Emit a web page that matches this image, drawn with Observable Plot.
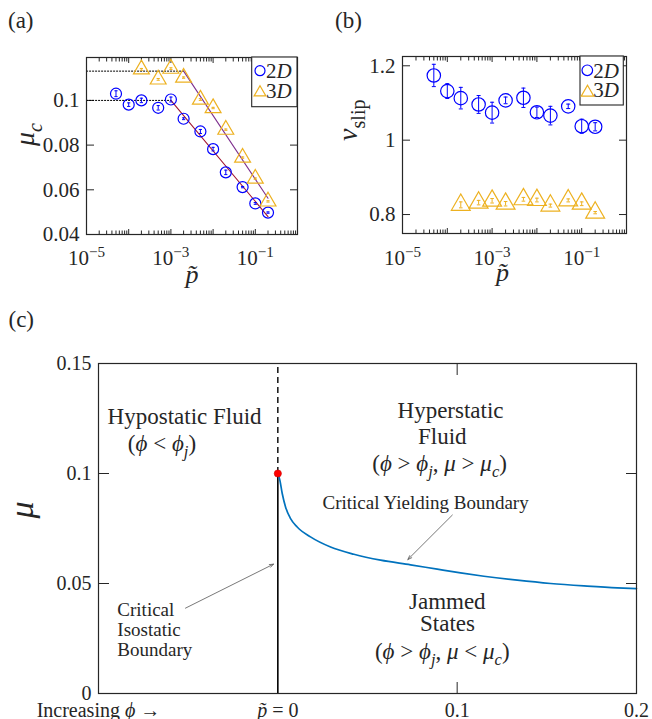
<!DOCTYPE html>
<html>
<head>
<meta charset="utf-8">
<script src="https://cdn.jsdelivr.net/npm/d3@7"></script>
<script src="https://cdn.jsdelivr.net/npm/@observablehq/plot@0.6"></script>
<style>
  html,body{margin:0;padding:0;background:#fff;}
  #wrap{position:relative;width:652px;height:719px;overflow:hidden;background:#fff;}
  #wrap > svg{position:absolute;margin:0;}
</style>
</head>
<body>
<div id="wrap"></div>
<script>
// ---------------- data ----------------
const pTilde2D = [5e-5, 1e-4, 2e-4, 5e-4, 1e-3, 2e-3, 5e-3, 1e-2, 2e-2, 5e-2, 1e-1, 2e-1];
const muc2D    = [0.1030, 0.0981, 0.1000, 0.0967, 0.1004, 0.0918, 0.0861, 0.0782, 0.0678, 0.0612, 0.0539, 0.0498];
const muc2DErr = [0.0013, 0.0008, 0.0010, 0.0010, 0.0011, 0.0004, 0.0009, 0.0008, 0.0010, 0.0003, 0.0004, 0.0003];
const pTilde3D = [2e-4, 5e-4, 1e-3, 2e-3, 5e-3, 1e-2, 2e-2, 5e-2, 1e-1, 2e-1];
const muc3D    = [0.1139, 0.1094, 0.1142, 0.1102, 0.1004, 0.0966, 0.0869, 0.0744, 0.0650, 0.0548];
const muc3DErr = [0.0004, 0.0004, 0.0004, 0.0003, 0.0004, 0.0003, 0.0003, 0.0003, 0.0003, 0.0003];

const nuSlip2D    = [1.174, 1.132, 1.113, 1.096, 1.074, 1.107, 1.114, 1.075, 1.066, 1.091, 1.0375, 1.036];
const nuSlip2DErr = [0.030, 0.020, 0.029, 0.024, 0.028, 0.009, 0.026, 0.014, 0.025, 0.006, 0.019, 0.011];
const nuSlip3D    = [0.826, 0.832, 0.837, 0.829, 0.841, 0.839, 0.824, 0.838, 0.829, 0.805];
const nuSlip3DErr = [0.008, 0.006, 0.006, 0.006, 0.005, 0.005, 0.004, 0.004, 0.005, 0.003];

// plateau (dotted) and fitted lines in (a)
const plateau2DP = [1e-5, 1e-3], plateau2DMu = [0.1, 0.1];
const plateau3DP = [1e-5, 2e-3], plateau3DMu = [0.1131, 0.1131];
const fit2DP = [1e-3, 2e-1], fit2DMu = [0.1, 0.048];
const fit3DP = [2e-3, 2e-1], fit3DMu = [0.1131, 0.0562];

// phase diagram (c)
const curveP  = [0, 0.00112, 0.00245, 0.0043, 0.0071, 0.0108, 0.0182, 0.0294, 0.0424, 0.0573, 0.0740, 0.0889, 0.1019, 0.1149, 0.1335, 0.1521, 0.1707, 0.1893, 0.2];
const curveMu = [0.1, 0.0970, 0.0909, 0.0848, 0.0795, 0.0757, 0.0712, 0.0666, 0.0633, 0.0606, 0.0585, 0.0565, 0.0548, 0.0533, 0.0515, 0.0500, 0.0489, 0.0480, 0.0477];
const isostaticP = [0];
const criticalMu = [0.1];
const muMax = 0.15;

// ticks
const decadeTicks = [1e-5, 1e-4, 1e-3, 1e-2, 1e-1, 1];
const minorTicks = d3.range(-5, 0).flatMap(e => d3.range(2, 10).map(k => k * 10 ** e));
const labelledDecades = [1e-5, 1e-3, 1e-1];
const mucTicks = [0.04, 0.06, 0.08, 0.1];
const nuTicks = [0.8, 1, 1.2];
const cXTicks = [-0.1, 0, 0.1, 0.2];
const cXTickLabels = ["Increasing *ϕ* →", "*p̃* = 0", "0.1", "0.2"];
const cYTicks = [0, 0.05, 0.1, 0.15];
const cYTickLabels = ["0", "0.05", "0.1", "0.15"];

// annotations of (c)
const regionLabels = ["Hypostatic Fluid", "(*ϕ* < *ϕ*_{*j*})", "Hyperstatic", "Fluid",
  "(*ϕ* > *ϕ*_{*j*}, *μ* > *μ*_{*c*})", "Jammed", "States", "(*ϕ* > *ϕ*_{*j*}, *μ* < *μ*_{*c*})"];
const boundaryLabels = ["Critical Yielding Boundary", "Critical", "Isostatic", "Boundary"];

// ---------------- layout / style ----------------
const FONT = "'Liberation Serif','Times New Roman',serif";
const INK = "#262626";
const BLUE = "#0000ff", ORANGE = "#EDB120", RED = "#A2142F", PURPLE = "#7E2F8E", CURVE = "#0072BD";

const regionPos = {x: [-0.052, -0.0646, 0.0963, 0.0917, 0.0902, 0.0945, 0.0946, 0.0917],
                   y: [0.1257, 0.1138, 0.1288, 0.1166, 0.1047, 0.0416, 0.0318, 0.0189]};
const yieldPos = {x: [0.0824], y: [0.0866]};
const isoPos = {x: [-0.0895, -0.0895, -0.0895], y: [0.0379, 0.0288, 0.0197]};
const arrowPos = [{x1: -0.0515, y1: 0.0388, x2: -0.0024, y2: 0.0588},
                  {x1: 0.0973, y1: 0.0811, x2: 0.0725, y2: 0.0609}];

const rows = (xs, ys, es) => xs.map((x, i) => ({x, y: ys[i], e: es ? es[i] : 0}));
const cap = {draw(ctx, size) { const w = Math.sqrt(size / Math.PI); ctx.moveTo(-w, 0); ctx.lineTo(w, 0); }};
const powLabel = d => { const e = Math.round(Math.log10(d)); return `10^{${e < 0 ? "−" : ""}${Math.abs(e)}}`; };
const blank = () => "";

function inwardX(ticks, len) {
  return [
    Plot.axisX({ticks, anchor: "bottom", tickSize: len, dy: -len, tickFormat: blank, label: null}),
    Plot.axisX({ticks, anchor: "top", tickSize: len, dy: len, tickFormat: blank, label: null})
  ];
}
function inwardY(ticks, len) {
  return [
    Plot.axisY({ticks, anchor: "left", tickSize: len, dx: len, tickFormat: blank, label: null}),
    Plot.axisY({ticks, anchor: "right", tickSize: len, dx: -len, tickFormat: blank, label: null})
  ];
}

function errorMarks(data, color, capR) {
  return [
    Plot.ruleX(data, {x: "x", y1: d => d.y - d.e, y2: d => d.y + d.e, stroke: color, strokeWidth: 1}),
    Plot.dot(data, {x: "x", y: d => d.y - d.e, symbol: cap, r: capR, stroke: color, strokeWidth: 1}),
    Plot.dot(data, {x: "x", y: d => d.y + d.e, symbol: cap, r: capR, stroke: color, strokeWidth: 1})
  ];
}

// rich text: *italic*, _{sub}, ^{sup}
function richify(svg) {
  svg.querySelectorAll("text, tspan").forEach(el => {
    if (el.children.length) return;
    const s = el.textContent;
    if (!/[*_^]/.test(s)) return;
    const fs = parseFloat(getComputedStyle(el).fontSize) || 16;
    const segs = [];
    let it = false, mode = 0, buf = "";
    const push = () => { if (buf) segs.push({t: buf, it, mode}); buf = ""; };
    for (let i = 0; i < s.length; i++) {
      const c = s[i];
      if (c === "*") { push(); it = !it; }
      else if ((c === "_" || c === "^") && s[i + 1] === "{") { push(); mode = c === "_" ? -1 : 1; i++; }
      else if (c === "}" && mode !== 0) { push(); mode = 0; }
      else buf += c;
    }
    push();
    el.textContent = "";
    let cur = 0;
    for (const g of segs) {
      const t = document.createElementNS("http://www.w3.org/2000/svg", "tspan");
      t.textContent = g.t;
      if (g.it) t.setAttribute("font-style", "italic");
      const target = g.mode === -1 ? 0.27 * fs : g.mode === 1 ? -0.42 * fs : 0;
      if (target !== cur) t.setAttribute("dy", (target - cur).toFixed(2));
      if (g.mode) t.setAttribute("font-size", (0.72 * fs).toFixed(2));
      cur = target;
      el.appendChild(t);
    }
  });
}

function addLegend(svg, box, items) {
  const g = d3.select(svg).append("g").attr("text-anchor", "start");
  g.append("rect").attr("x", box.x).attr("y", box.y).attr("width", box.w).attr("height", box.h)
    .attr("fill", "white").attr("stroke", INK).attr("stroke-width", 1.1);
  for (const it of items) {
    g.append("path").attr("d", d3.symbol(it.sym, Math.PI * it.r * it.r)())
      .attr("transform", `translate(${it.x},${it.y})`)
      .attr("fill", "none").attr("stroke", it.color).attr("stroke-width", 1.2);
    g.append("text").attr("x", it.tx).attr("y", it.ty).attr("font-size", 21)
      .attr("text-anchor", "start").attr("fill", INK).text(it.label);
  }
}

const wrap = document.getElementById("wrap");
function place(svg, left, top) {
  svg.style.left = left + "px";
  svg.style.top = top + "px";
  wrap.appendChild(svg);
  return svg;
}

const baseStyle = {fontFamily: FONT, fontSize: "21px", color: INK, background: "transparent", overflow: "visible"};

// ---------------- panel (a) ----------------
const a2D = rows(pTilde2D, muc2D, muc2DErr);
const a3D = rows(pTilde3D, muc3D, muc3DErr);
const plotA = Plot.plot({
  width: 326, height: 300,
  marginLeft: 86, marginRight: 29, marginTop: 57, marginBottom: 66,
  x: {type: "log", domain: [1e-5, 1]},
  y: {domain: [0.04, 0.1192]},
  style: baseStyle,
  marks: [
    ...inwardX(decadeTicks, 5), ...inwardX(minorTicks, 3.5), ...inwardY(mucTicks, 8),
    Plot.axisX({ticks: labelledDecades, anchor: "bottom", tickSize: 0, tickPadding: 16, tickFormat: powLabel, label: null}),
    Plot.axisY({ticks: mucTicks, anchor: "left", tickSize: 0, tickPadding: 7, tickFormat: d => String(d), label: null}),
    Plot.line(rows(plateau2DP, plateau2DMu), {x: "x", y: "y", stroke: "black", strokeWidth: 1, strokeDasharray: "1.2,1.8"}),
    Plot.line(rows(plateau3DP, plateau3DMu), {x: "x", y: "y", stroke: "black", strokeWidth: 1, strokeDasharray: "1.2,1.8"}),
    Plot.line(rows(fit2DP, fit2DMu), {x: "x", y: "y", stroke: RED, strokeWidth: 1.1}),
    Plot.line(rows(fit3DP, fit3DMu), {x: "x", y: "y", stroke: PURPLE, strokeWidth: 1.1}),
    ...errorMarks(a2D, BLUE, 1.6), ...errorMarks(a3D, ORANGE, 1.6),
    Plot.dot(a2D, {x: "x", y: "y", r: 5.5, stroke: BLUE, strokeWidth: 1.2, fill: "none"}),
    Plot.dot(a3D, {x: "x", y: "y", r: 5.9, symbol: "triangle", stroke: ORANGE, strokeWidth: 1.2, fill: "none"}),
    Plot.text(["*μ*_{*c*}"], {text: d => d, frameAnchor: "left", dx: -61, rotate: -90, fontSize: 28}),
    Plot.text(["*p̃*"], {text: d => d, frameAnchor: "bottom", dy: 48, fontSize: 26}),
    Plot.frame({stroke: INK, strokeWidth: 1.2})
  ]
});
place(plotA, 0, 0);
addLegend(plotA, {x: 251.7, y: 57, w: 45.3, h: 49.7}, [
  {sym: d3.symbolCircle, r: 5, x: 260, y: 70.7, tx: 266, ty: 78.3, label: "2*D*", color: BLUE},
  {sym: d3.symbolTriangle2, r: 5.6, x: 260, y: 92.5, tx: 266, ty: 97.5, label: "3*D*", color: ORANGE}
]);

// ---------------- panel (b) ----------------
const b2D = rows(pTilde2D, nuSlip2D, nuSlip2DErr);
const b3D = rows(pTilde3D, nuSlip3D, nuSlip3DErr);
const plotB = Plot.plot({
  width: 326, height: 300,
  marginLeft: 76, marginRight: 26, marginTop: 56, marginBottom: 67,
  x: {type: "log", domain: [1e-5, 1]},
  y: {domain: [0.749, 1.225]},
  style: baseStyle,
  marks: [
    ...inwardX(decadeTicks, 5), ...inwardX(minorTicks, 3.5), ...inwardY(nuTicks, 8),
    Plot.axisX({ticks: labelledDecades, anchor: "bottom", tickSize: 0, tickPadding: 17, tickFormat: powLabel, label: null}),
    Plot.axisY({ticks: nuTicks, anchor: "left", tickSize: 0, tickPadding: 7, tickFormat: d => String(d), label: null}),
    ...errorMarks(b2D, BLUE, 2), ...errorMarks(b3D, ORANGE, 1.8),
    Plot.dot(b2D, {x: "x", y: "y", r: 6.7, stroke: BLUE, strokeWidth: 1.2, fill: "none"}),
    Plot.dot(b3D, {x: "x", y: "y", r: 7.0, symbol: "triangle", stroke: ORANGE, strokeWidth: 1.2, fill: "none"}),
    Plot.text(["*ν*_{slip}"], {text: d => d, frameAnchor: "left", dx: -54, dy: -4, rotate: -90, fontSize: 28}),
    Plot.text(["*p̃*"], {text: d => d, frameAnchor: "bottom", dx: -12, dy: 47, fontSize: 26}),
    Plot.frame({stroke: INK, strokeWidth: 1.2})
  ]
});
place(plotB, 326, 0);
addLegend(plotB, {x: 254, y: 56, w: 43.3, h: 49}, [
  {sym: d3.symbolCircle, r: 5.3, x: 261.3, y: 70.3, tx: 267.3, ty: 78, label: "2*D*", color: BLUE},
  {sym: d3.symbolTriangle2, r: 6, x: 261.5, y: 92.5, tx: 267.3, ty: 97.3, label: "3*D*", color: ORANGE}
]);

// ---------------- panel (c) ----------------
const cxLabel = new Map(cXTicks.map((t, i) => [t, cXTickLabels[i]]));
const cyLabel = new Map(cYTicks.map((t, i) => [t, cYTickLabels[i]]));
const plotC = Plot.plot({
  width: 652, height: 419,
  marginLeft: 98, marginRight: 16, marginTop: 63, marginBottom: 26,
  x: {domain: [-0.1, 0.2]},
  y: {domain: [0, muMax]},
  style: {...baseStyle, fontSize: "20px"},
  marks: [
    ...inwardX([0.1], 11), ...inwardY([0.05, 0.1], 11),
    Plot.axisX({ticks: cXTicks, anchor: "bottom", tickSize: 0, tickPadding: 9, tickFormat: d => cxLabel.get(d), label: null}),
    Plot.axisY({ticks: cYTicks, anchor: "left", tickSize: 0, tickPadding: 7, tickFormat: d => cyLabel.get(d), label: null}),
    Plot.ruleX(isostaticP, {x: d => d, y1: 0, y2: criticalMu[0], stroke: "black", strokeWidth: 1.6}),
    Plot.ruleX(isostaticP, {x: d => d, y1: criticalMu[0], y2: muMax, stroke: "black", strokeWidth: 1.4, strokeDasharray: "6,4"}),
    Plot.line(rows(curveP, curveMu), {x: "x", y: "y", stroke: CURVE, strokeWidth: 1.7, curve: "monotone-x"}),
    Plot.arrow(arrowPos, {x1: "x1", y1: "y1", x2: "x2", y2: "y2", stroke: "#555", strokeWidth: 0.8, headLength: 8, headAngle: 40}),
    Plot.text(regionLabels, {text: d => d, x: regionPos.x, y: regionPos.y, fontSize: 23, fill: INK}),
    Plot.text(boundaryLabels.slice(0, 1), {text: d => d, x: yieldPos.x, y: yieldPos.y, fontSize: 19, fill: INK}),
    Plot.text(boundaryLabels.slice(1), {text: d => d, x: isoPos.x, y: isoPos.y, textAnchor: "start", fontSize: 19, fill: INK}),
    Plot.dot(rows(isostaticP, criticalMu), {x: "x", y: "y", r: 3.6, fill: "#ff0000", stroke: "#cc0000", strokeWidth: 0.6}),
    Plot.text(["*μ*"], {text: d => d, frameAnchor: "left", dx: -76, dy: -10, rotate: -90, fontSize: 34}),
    Plot.frame({stroke: INK, strokeWidth: 1.2})
  ]
});
place(plotC, 0, 300);

// panel letters
const letters = d3.create("svg").attr("width", 652).attr("height", 719)
  .style("left", "0px").style("top", "0px").style("pointer-events", "none")
  .attr("font-family", FONT).attr("font-size", 23).attr("fill", INK);
letters.append("text").attr("x", 8).attr("y", 28).text("(a)");
letters.append("text").attr("x", 335).attr("y", 28).text("(b)");
letters.append("text").attr("x", 8.5).attr("y", 327).text("(c)");
wrap.appendChild(letters.node());

[plotA, plotB, plotC].forEach(richify);
</script>
</body>
</html>
